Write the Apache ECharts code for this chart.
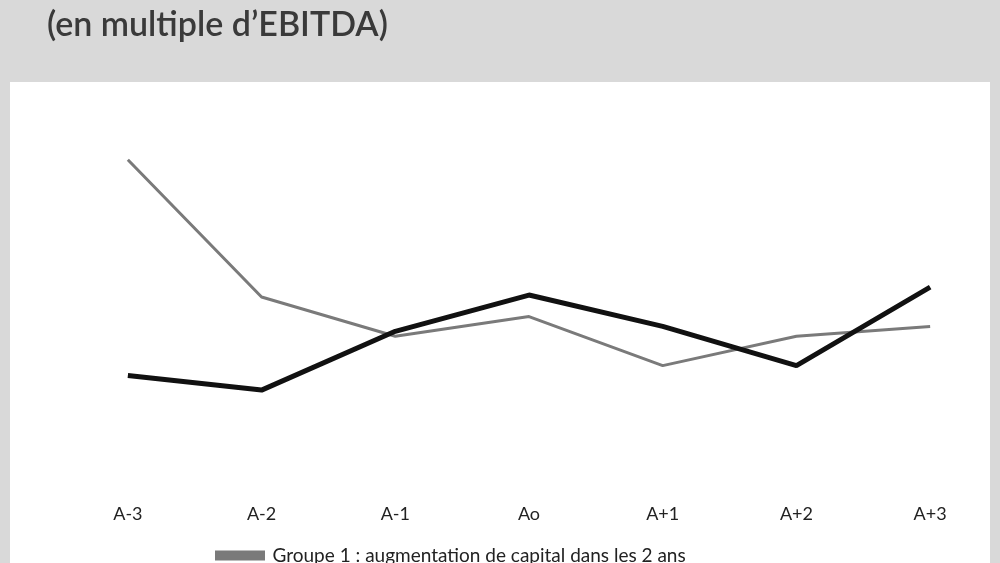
<!DOCTYPE html>
<html><head><meta charset="utf-8">
<script src="https://cdn.jsdelivr.net/npm/echarts@6/dist/echarts.min.js"></script>
<style>html,body{margin:0;padding:0;background:#d9d9d9}#c{width:1000px;height:563px}</style>
</head><body><div id="c"></div>
<script>
const categories = ['A-3','A-2','A-1','Ao','A+1','A+2','A+3'];
const groupe1 = [3.4, 2.0, 1.6, 1.8, 1.3, 1.6, 1.7];
const groupe2 = [1.2, 1.05, 1.65, 2.02, 1.7, 1.3, 2.1];
const labels1 = ['3,4x','2,0x','1,6x','1,8x','1,3x','1,6x','1,7x'];
const labels2 = ['1,2x','1,0x','1,6x','2,0x','1,7x','1,3x',''];
const pos1 = [[27,0],[-44,30],[5,39],[-13,50],[-7,42],[4,-10],[5,45]];
const pos2 = [[-28,-6],[-19,-14],[5,-16],[0,-10],[28,-9],[-6,42],[0,0]];
const font = 'Lato, "Open Sans", sans-serif';
function mk(vals, pos){
  return vals.map((v,i)=>({value:v,label:{offset:pos[i]}}));
}
const chart = echarts.init(document.getElementById('c'));
chart.setOption({
  backgroundColor:'#d9d9d9',
  animation:false,
  graphic:[
    {type:'rect',shape:{x:10,y:82,width:980,height:490},style:{fill:'#ffffff'},z:-10},
    {type:'text',left:47,top:8,style:{text:'(en multiple d\u2019EBITDA)',font:'600 34px '+font,fill:'#3a3a3a'}}
  ],
  legend:{top:541,left:210,itemWidth:55,itemHeight:10,icon:'path://M0,4H10V6H0Z',itemGap:8,
    data:[{name:'Groupe 1 : augmentation de capital dans les 2 ans'}],
    textStyle:{fontFamily:font,fontSize:19,color:'#222'}},
  grid:{left:61,right:3,top:101,bottom:70},
  xAxis:{type:'category',data:categories,boundaryGap:true,
    axisLine:{show:false},axisTick:{show:false},
    axisLabel:{margin:12,fontFamily:font,fontSize:18,color:'#222'}},
  yAxis:{type:'value',min:0,max:4,show:false,splitLine:{show:false}},
  series:[
    {name:'Groupe 1 : augmentation de capital dans les 2 ans',type:'line',data:mk(groupe1,pos1),
     symbol:'none',showSymbol:false,lineStyle:{color:'#7a7a7a',width:3},itemStyle:{color:'#7a7a7a'},
     label:{show:true,position:'top',distance:5,formatter:p=>labels1[p.dataIndex],fontFamily:font,fontSize:17,color:'#222'},
     labelLayout:{hideOverlap:false}},
    {name:'Groupe 2',type:'line',data:mk(groupe2,pos2),
     symbol:'none',showSymbol:false,lineStyle:{color:'#111',width:5},itemStyle:{color:'#111'},
     label:{show:true,position:'top',distance:5,formatter:p=>labels2[p.dataIndex],fontFamily:font,fontSize:17,color:'#222'},
     labelLayout:{hideOverlap:false}}
  ]
});
</script></body></html>
